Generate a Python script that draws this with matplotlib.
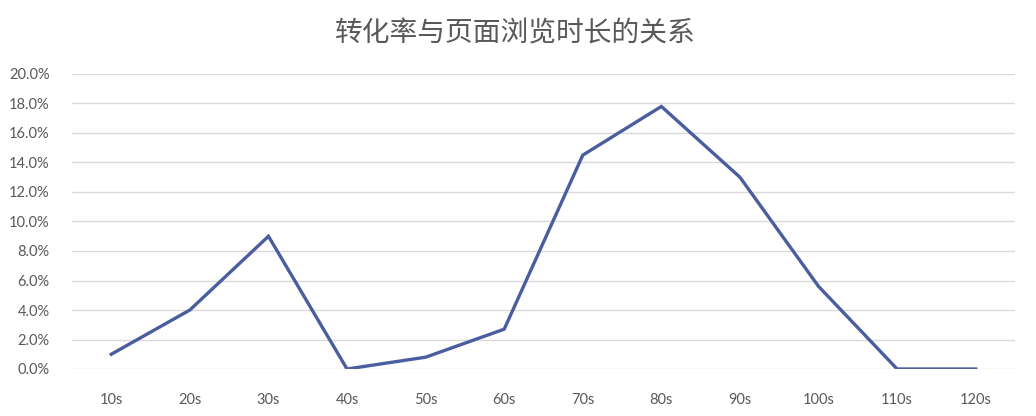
import matplotlib
matplotlib.use("Agg")
import matplotlib.pyplot as plt
from matplotlib.ticker import PercentFormatter, MultipleLocator

categories = ["10s", "20s", "30s", "40s", "50s", "60s", "70s", "80s", "90s", "100s", "110s", "120s"]
conversion = [1.0, 4.0, 9.0, 0.0, 0.8, 2.7, 14.5, 17.8, 13.0, 5.6, 0.0, 0.0]
title = "转化率与页面浏览时长的关系"

plt.rcParams['font.family'] = ['Lato', 'DejaVu Sans']

fig = plt.figure(figsize=(10.36, 4.16), dpi=100)
ax = fig.add_axes([72/1036, 1 - 369/416, (1015-72)/1036, (369-74)/416])

x = list(range(len(categories)))
ax.plot(x, conversion, color='#4a5e9f', linewidth=2.4, solid_joinstyle='miter', zorder=3)

ax.set_xlim(-0.5, len(categories) - 0.5)
ax.set_ylim(0, 20)
ax.yaxis.set_major_locator(MultipleLocator(2))
ax.yaxis.set_major_formatter(PercentFormatter(100, decimals=1))
ax.set_xticks(x)
ax.set_xticklabels(categories)
ax.grid(axis='y', color='#d9d9d9', linewidth=1.0)
ax.set_axisbelow(True)
for s in ax.spines.values():
    s.set_visible(False)
ax.tick_params(axis='both', length=0, labelsize=10.5, colors='#595959')
ax.tick_params(axis='x', pad=17)
ax.tick_params(axis='y', pad=16)

fig.text(515/1036, 1 - 33/416, title, ha='center', va='center',
         fontsize=20, color='#595959', family=['Noto Sans CJK SC', 'DejaVu Sans'])

fig.savefig('out.png', dpi=100, facecolor='white')
